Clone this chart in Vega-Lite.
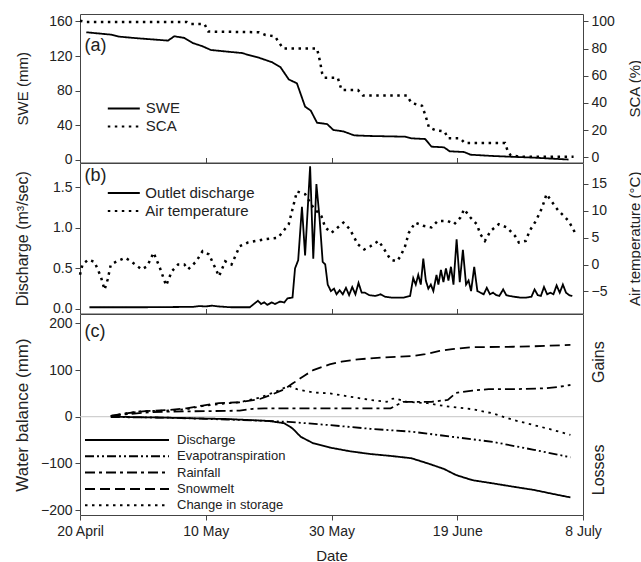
{
"$schema": "https://vega.github.io/schema/vega-lite/v6.json",
"background": "white",
"padding": {"left": 12, "top": 13, "right": 2, "bottom": 0},
"autosize": {"type": "pad"},
"spacing": 0,
"bounds": "flush",
"datasets": {
"a": [
{"d":1,"v":147.4,"s":"SWE"},{"d":4.9,"v":144.7,"s":"SWE"},{"d":6.2,"v":142.4,"s":"SWE"},{"d":9.1,"v":140.5,"s":"SWE"},{"d":14,"v":137.8,"s":"SWE"},{"d":15,"v":142.8,"s":"SWE"},{"d":16.6,"v":140.9,"s":"SWE"},{"d":17.9,"v":135.1,"s":"SWE"},{"d":19.5,"v":131.2,"s":"SWE"},{"d":20.8,"v":127,"s":"SWE"},{"d":22.8,"v":125.5,"s":"SWE"},{"d":25.7,"v":123.5,"s":"SWE"},{"d":28.6,"v":117.7,"s":"SWE"},{"d":30.6,"v":112.7,"s":"SWE"},{"d":31.9,"v":107,"s":"SWE"},{"d":33.2,"v":93,"s":"SWE"},{"d":34.5,"v":88.5,"s":"SWE"},{"d":35.8,"v":61.6,"s":"SWE"},{"d":36.7,"v":57,"s":"SWE"},{"d":37.7,"v":43,"s":"SWE"},{"d":39.3,"v":41.5,"s":"SWE"},{"d":40.3,"v":34.6,"s":"SWE"},{"d":41.9,"v":33,"s":"SWE"},{"d":43.6,"v":28.4,"s":"SWE"},{"d":46.2,"v":27.7,"s":"SWE"},{"d":51.7,"v":26.9,"s":"SWE"},{"d":52.7,"v":25,"s":"SWE"},{"d":54.9,"v":24.2,"s":"SWE"},{"d":55.9,"v":15.4,"s":"SWE"},{"d":57.9,"v":14.6,"s":"SWE"},{"d":58.8,"v":10,"s":"SWE"},{"d":61.1,"v":9.2,"s":"SWE"},{"d":62.1,"v":6.1,"s":"SWE"},{"d":65.7,"v":4.6,"s":"SWE"},{"d":72.2,"v":2.7,"s":"SWE"},{"d":77.7,"v":0.5,"s":"SWE"},
{"d":0,"v":100.5,"s":"SCA"},{"d":1,"v":99.5,"s":"SCA"},{"d":17,"v":99.5,"s":"SCA"},{"d":17.6,"v":98,"s":"SCA"},{"d":19.8,"v":98,"s":"SCA"},{"d":20.4,"v":92.5,"s":"SCA"},{"d":28.5,"v":92,"s":"SCA"},{"d":29.5,"v":90,"s":"SCA"},{"d":31,"v":89,"s":"SCA"},{"d":32.3,"v":80,"s":"SCA"},{"d":37.7,"v":80,"s":"SCA"},{"d":38.2,"v":70,"s":"SCA"},{"d":38.5,"v":62,"s":"SCA"},{"d":38.9,"v":58.5,"s":"SCA"},{"d":41,"v":58.5,"s":"SCA"},{"d":41.6,"v":49.5,"s":"SCA"},{"d":44.2,"v":49.5,"s":"SCA"},{"d":45,"v":45.5,"s":"SCA"},{"d":52,"v":45.5,"s":"SCA"},{"d":52.7,"v":40,"s":"SCA"},{"d":54.4,"v":38,"s":"SCA"},{"d":55,"v":30,"s":"SCA"},{"d":55.5,"v":22,"s":"SCA"},{"d":56.5,"v":20,"s":"SCA"},{"d":58,"v":19,"s":"SCA"},{"d":58.5,"v":14,"s":"SCA"},{"d":60.5,"v":14,"s":"SCA"},{"d":61.2,"v":10.5,"s":"SCA"},{"d":67.6,"v":10.5,"s":"SCA"},{"d":68,"v":5,"s":"SCA"},{"d":68.5,"v":1.5,"s":"SCA"},{"d":70,"v":0.5,"s":"SCA"},{"d":78.5,"v":0.5,"s":"SCA"}
],
"b": [
{"d":1.5,"v":0.02,"s":"Outlet discharge"},{"d":10,"v":0.02,"s":"Outlet discharge"},{"d":18,"v":0.025,"s":"Outlet discharge"},{"d":19,"v":0.035,"s":"Outlet discharge"},{"d":20,"v":0.03,"s":"Outlet discharge"},{"d":21,"v":0.04,"s":"Outlet discharge"},{"d":22,"v":0.03,"s":"Outlet discharge"},{"d":24,"v":0.02,"s":"Outlet discharge"},{"d":27,"v":0.02,"s":"Outlet discharge"},{"d":27.8,"v":0.07,"s":"Outlet discharge"},{"d":28.3,"v":0.1,"s":"Outlet discharge"},{"d":28.8,"v":0.06,"s":"Outlet discharge"},{"d":29.3,"v":0.08,"s":"Outlet discharge"},{"d":29.8,"v":0.05,"s":"Outlet discharge"},{"d":30.5,"v":0.08,"s":"Outlet discharge"},{"d":31,"v":0.06,"s":"Outlet discharge"},{"d":31.8,"v":0.09,"s":"Outlet discharge"},{"d":32.5,"v":0.08,"s":"Outlet discharge"},{"d":33,"v":0.13,"s":"Outlet discharge"},{"d":33.8,"v":0.14,"s":"Outlet discharge"},{"d":34.2,"v":0.5,"s":"Outlet discharge"},{"d":34.7,"v":0.6,"s":"Outlet discharge"},{"d":35.3,"v":1.26,"s":"Outlet discharge"},{"d":35.8,"v":0.66,"s":"Outlet discharge"},{"d":36.6,"v":1.76,"s":"Outlet discharge"},{"d":37.1,"v":0.62,"s":"Outlet discharge"},{"d":37.6,"v":1.54,"s":"Outlet discharge"},{"d":38.1,"v":1.12,"s":"Outlet discharge"},{"d":38.6,"v":0.58,"s":"Outlet discharge"},{"d":39,"v":0.55,"s":"Outlet discharge"},{"d":39.4,"v":0.3,"s":"Outlet discharge"},{"d":39.9,"v":0.22,"s":"Outlet discharge"},{"d":40.4,"v":0.25,"s":"Outlet discharge"},{"d":40.8,"v":0.18,"s":"Outlet discharge"},{"d":41.3,"v":0.23,"s":"Outlet discharge"},{"d":41.8,"v":0.18,"s":"Outlet discharge"},{"d":42.3,"v":0.26,"s":"Outlet discharge"},{"d":42.8,"v":0.17,"s":"Outlet discharge"},{"d":43.3,"v":0.27,"s":"Outlet discharge"},{"d":43.8,"v":0.18,"s":"Outlet discharge"},{"d":44.3,"v":0.32,"s":"Outlet discharge"},{"d":44.8,"v":0.2,"s":"Outlet discharge"},{"d":45.3,"v":0.2,"s":"Outlet discharge"},{"d":46,"v":0.17,"s":"Outlet discharge"},{"d":47,"v":0.16,"s":"Outlet discharge"},{"d":47.8,"v":0.18,"s":"Outlet discharge"},{"d":48.5,"v":0.15,"s":"Outlet discharge"},{"d":49.5,"v":0.14,"s":"Outlet discharge"},{"d":50.5,"v":0.14,"s":"Outlet discharge"},{"d":51.5,"v":0.14,"s":"Outlet discharge"},{"d":52.5,"v":0.16,"s":"Outlet discharge"},{"d":53,"v":0.38,"s":"Outlet discharge"},{"d":53.4,"v":0.3,"s":"Outlet discharge"},{"d":53.8,"v":0.42,"s":"Outlet discharge"},{"d":54.2,"v":0.3,"s":"Outlet discharge"},{"d":54.6,"v":0.62,"s":"Outlet discharge"},{"d":55,"v":0.35,"s":"Outlet discharge"},{"d":55.4,"v":0.25,"s":"Outlet discharge"},{"d":55.8,"v":0.3,"s":"Outlet discharge"},{"d":56.2,"v":0.22,"s":"Outlet discharge"},{"d":56.7,"v":0.42,"s":"Outlet discharge"},{"d":57,"v":0.3,"s":"Outlet discharge"},{"d":57.4,"v":0.48,"s":"Outlet discharge"},{"d":57.8,"v":0.33,"s":"Outlet discharge"},{"d":58.2,"v":0.5,"s":"Outlet discharge"},{"d":58.6,"v":0.35,"s":"Outlet discharge"},{"d":59,"v":0.52,"s":"Outlet discharge"},{"d":59.4,"v":0.3,"s":"Outlet discharge"},{"d":59.9,"v":0.86,"s":"Outlet discharge"},{"d":60.4,"v":0.33,"s":"Outlet discharge"},{"d":60.9,"v":0.73,"s":"Outlet discharge"},{"d":61.4,"v":0.3,"s":"Outlet discharge"},{"d":61.8,"v":0.35,"s":"Outlet discharge"},{"d":62.2,"v":0.22,"s":"Outlet discharge"},{"d":62.7,"v":0.52,"s":"Outlet discharge"},{"d":63.2,"v":0.22,"s":"Outlet discharge"},{"d":63.7,"v":0.2,"s":"Outlet discharge"},{"d":64.2,"v":0.18,"s":"Outlet discharge"},{"d":64.7,"v":0.26,"s":"Outlet discharge"},{"d":65.2,"v":0.18,"s":"Outlet discharge"},{"d":65.7,"v":0.2,"s":"Outlet discharge"},{"d":66.2,"v":0.17,"s":"Outlet discharge"},{"d":66.7,"v":0.16,"s":"Outlet discharge"},{"d":67.3,"v":0.24,"s":"Outlet discharge"},{"d":67.8,"v":0.17,"s":"Outlet discharge"},{"d":68.3,"v":0.16,"s":"Outlet discharge"},{"d":69,"v":0.15,"s":"Outlet discharge"},{"d":70,"v":0.14,"s":"Outlet discharge"},{"d":71,"v":0.14,"s":"Outlet discharge"},{"d":71.8,"v":0.15,"s":"Outlet discharge"},{"d":72.3,"v":0.24,"s":"Outlet discharge"},{"d":72.8,"v":0.17,"s":"Outlet discharge"},{"d":73.3,"v":0.16,"s":"Outlet discharge"},{"d":73.8,"v":0.27,"s":"Outlet discharge"},{"d":74.3,"v":0.18,"s":"Outlet discharge"},{"d":74.8,"v":0.2,"s":"Outlet discharge"},{"d":75.3,"v":0.18,"s":"Outlet discharge"},{"d":75.8,"v":0.29,"s":"Outlet discharge"},{"d":76.3,"v":0.2,"s":"Outlet discharge"},{"d":76.8,"v":0.3,"s":"Outlet discharge"},{"d":77.3,"v":0.2,"s":"Outlet discharge"},{"d":77.8,"v":0.17,"s":"Outlet discharge"},{"d":78.3,"v":0.16,"s":"Outlet discharge"},
{"d":0,"v":-1.9,"s":"Air temperature"},{"d":0.4,"v":0,"s":"Air temperature"},{"d":1.3,"v":0.9,"s":"Air temperature"},{"d":2.3,"v":0.5,"s":"Air temperature"},{"d":3.3,"v":-2.2,"s":"Air temperature"},{"d":3.9,"v":-4.7,"s":"Air temperature"},{"d":4.4,"v":-2.8,"s":"Air temperature"},{"d":4.9,"v":0,"s":"Air temperature"},{"d":5.9,"v":0.6,"s":"Air temperature"},{"d":7.2,"v":1.25,"s":"Air temperature"},{"d":8.1,"v":0.6,"s":"Air temperature"},{"d":9.8,"v":-0.9,"s":"Air temperature"},{"d":10.7,"v":-0.3,"s":"Air temperature"},{"d":11.7,"v":2.2,"s":"Air temperature"},{"d":12.7,"v":-0.6,"s":"Air temperature"},{"d":13.7,"v":-3.9,"s":"Air temperature"},{"d":14.6,"v":-1.25,"s":"Air temperature"},{"d":15.6,"v":0,"s":"Air temperature"},{"d":16.6,"v":0,"s":"Air temperature"},{"d":17.2,"v":-0.9,"s":"Air temperature"},{"d":18.5,"v":0.6,"s":"Air temperature"},{"d":19.5,"v":2.5,"s":"Air temperature"},{"d":20.5,"v":1.9,"s":"Air temperature"},{"d":21.5,"v":-0.6,"s":"Air temperature"},{"d":22.1,"v":-2.2,"s":"Air temperature"},{"d":23.1,"v":0.6,"s":"Air temperature"},{"d":24.1,"v":0,"s":"Air temperature"},{"d":25.4,"v":3.4,"s":"Air temperature"},{"d":26.7,"v":4.1,"s":"Air temperature"},{"d":28,"v":4.4,"s":"Air temperature"},{"d":29.3,"v":4.7,"s":"Air temperature"},{"d":31.5,"v":5,"s":"Air temperature"},{"d":33.2,"v":7.5,"s":"Air temperature"},{"d":34.5,"v":13.6,"s":"Air temperature"},{"d":35.8,"v":13.1,"s":"Air temperature"},{"d":37.1,"v":10.6,"s":"Air temperature"},{"d":38.4,"v":9,"s":"Air temperature"},{"d":39,"v":6.9,"s":"Air temperature"},{"d":40,"v":5.9,"s":"Air temperature"},{"d":41,"v":6.9,"s":"Air temperature"},{"d":41.9,"v":7.8,"s":"Air temperature"},{"d":42.9,"v":6.6,"s":"Air temperature"},{"d":44.2,"v":3.75,"s":"Air temperature"},{"d":45.2,"v":2.8,"s":"Air temperature"},{"d":46.2,"v":3.4,"s":"Air temperature"},{"d":47.5,"v":4.4,"s":"Air temperature"},{"d":48.4,"v":2.8,"s":"Air temperature"},{"d":49.4,"v":0.9,"s":"Air temperature"},{"d":50.4,"v":0.6,"s":"Air temperature"},{"d":51,"v":1.6,"s":"Air temperature"},{"d":51.7,"v":3.4,"s":"Air temperature"},{"d":52.3,"v":5.9,"s":"Air temperature"},{"d":53.3,"v":7.8,"s":"Air temperature"},{"d":54.6,"v":7.2,"s":"Air temperature"},{"d":55.9,"v":6.9,"s":"Air temperature"},{"d":56.9,"v":8.1,"s":"Air temperature"},{"d":58.5,"v":8.1,"s":"Air temperature"},{"d":59.5,"v":7.5,"s":"Air temperature"},{"d":60.5,"v":8.75,"s":"Air temperature"},{"d":61.1,"v":10.3,"s":"Air temperature"},{"d":62.1,"v":8.75,"s":"Air temperature"},{"d":63.1,"v":7.5,"s":"Air temperature"},{"d":63.7,"v":5.6,"s":"Air temperature"},{"d":64.4,"v":4.4,"s":"Air temperature"},{"d":65.3,"v":6.25,"s":"Air temperature"},{"d":66.6,"v":7.5,"s":"Air temperature"},{"d":67.9,"v":6.9,"s":"Air temperature"},{"d":69.2,"v":5.3,"s":"Air temperature"},{"d":69.8,"v":4.1,"s":"Air temperature"},{"d":70.9,"v":4.4,"s":"Air temperature"},{"d":71.5,"v":6.25,"s":"Air temperature"},{"d":72.5,"v":8.1,"s":"Air temperature"},{"d":73.5,"v":10.6,"s":"Air temperature"},{"d":74.2,"v":13.1,"s":"Air temperature"},{"d":75.1,"v":11.6,"s":"Air temperature"},{"d":76.1,"v":10,"s":"Air temperature"},{"d":77,"v":9,"s":"Air temperature"},{"d":77.7,"v":8.1,"s":"Air temperature"},{"d":78.3,"v":6.9,"s":"Air temperature"},{"d":79,"v":5.3,"s":"Air temperature"}
],
"c": [
{"d":4.9,"v":0,"s":"Discharge"},{"d":13.7,"v":-2,"s":"Discharge"},{"d":23.4,"v":-5,"s":"Discharge"},{"d":29.9,"v":-9,"s":"Discharge"},{"d":32.5,"v":-14,"s":"Discharge"},{"d":33.8,"v":-25,"s":"Discharge"},{"d":35.1,"v":-43,"s":"Discharge"},{"d":37.1,"v":-57,"s":"Discharge"},{"d":39.7,"v":-66,"s":"Discharge"},{"d":42.9,"v":-74,"s":"Discharge"},{"d":46.2,"v":-80,"s":"Discharge"},{"d":49.4,"v":-84,"s":"Discharge"},{"d":52.7,"v":-89,"s":"Discharge"},{"d":55.3,"v":-100,"s":"Discharge"},{"d":57.9,"v":-112,"s":"Discharge"},{"d":59.8,"v":-125,"s":"Discharge"},{"d":62.4,"v":-136,"s":"Discharge"},{"d":65.7,"v":-143,"s":"Discharge"},{"d":68.9,"v":-150,"s":"Discharge"},{"d":72.2,"v":-157,"s":"Discharge"},{"d":75.4,"v":-166,"s":"Discharge"},{"d":78,"v":-173,"s":"Discharge"},
{"d":4.9,"v":-0.7,"s":"Evapotranspiration"},{"d":13.7,"v":-2,"s":"Evapotranspiration"},{"d":23.4,"v":-6,"s":"Evapotranspiration"},{"d":29.9,"v":-9,"s":"Evapotranspiration"},{"d":33.2,"v":-11,"s":"Evapotranspiration"},{"d":39.7,"v":-18,"s":"Evapotranspiration"},{"d":46.2,"v":-26,"s":"Evapotranspiration"},{"d":52.7,"v":-32,"s":"Evapotranspiration"},{"d":59.2,"v":-43,"s":"Evapotranspiration"},{"d":65.7,"v":-54,"s":"Evapotranspiration"},{"d":72.2,"v":-71,"s":"Evapotranspiration"},{"d":78,"v":-87,"s":"Evapotranspiration"},
{"d":4.9,"v":1.5,"s":"Rainfall"},{"d":7.2,"v":5,"s":"Rainfall"},{"d":10.4,"v":9,"s":"Rainfall"},{"d":13.7,"v":11,"s":"Rainfall"},{"d":20.2,"v":12,"s":"Rainfall"},{"d":25.4,"v":13,"s":"Rainfall"},{"d":27.5,"v":17,"s":"Rainfall"},{"d":29.3,"v":18,"s":"Rainfall"},{"d":33.2,"v":18,"s":"Rainfall"},{"d":39.7,"v":18,"s":"Rainfall"},{"d":49.4,"v":18,"s":"Rainfall"},{"d":50.4,"v":25,"s":"Rainfall"},{"d":51.4,"v":32,"s":"Rainfall"},{"d":53.3,"v":32,"s":"Rainfall"},{"d":55.9,"v":32,"s":"Rainfall"},{"d":58.5,"v":36,"s":"Rainfall"},{"d":59.8,"v":51,"s":"Rainfall"},{"d":62.4,"v":56,"s":"Rainfall"},{"d":65,"v":59,"s":"Rainfall"},{"d":68.9,"v":59,"s":"Rainfall"},{"d":74.1,"v":61,"s":"Rainfall"},{"d":76.1,"v":64,"s":"Rainfall"},{"d":78,"v":68,"s":"Rainfall"},
{"d":4.9,"v":2,"s":"Snowmelt"},{"d":7.2,"v":7,"s":"Snowmelt"},{"d":10.4,"v":12,"s":"Snowmelt"},{"d":13.7,"v":14,"s":"Snowmelt"},{"d":16.9,"v":18,"s":"Snowmelt"},{"d":19.5,"v":24,"s":"Snowmelt"},{"d":22.1,"v":29,"s":"Snowmelt"},{"d":25.4,"v":31,"s":"Snowmelt"},{"d":28.6,"v":38,"s":"Snowmelt"},{"d":30.6,"v":48,"s":"Snowmelt"},{"d":32.5,"v":59,"s":"Snowmelt"},{"d":33.8,"v":71,"s":"Snowmelt"},{"d":35.8,"v":89,"s":"Snowmelt"},{"d":37.1,"v":100,"s":"Snowmelt"},{"d":39.7,"v":112,"s":"Snowmelt"},{"d":41.6,"v":118,"s":"Snowmelt"},{"d":44.2,"v":123,"s":"Snowmelt"},{"d":48.1,"v":127,"s":"Snowmelt"},{"d":52.7,"v":130,"s":"Snowmelt"},{"d":54.9,"v":134,"s":"Snowmelt"},{"d":57.2,"v":141,"s":"Snowmelt"},{"d":59.2,"v":145,"s":"Snowmelt"},{"d":62.4,"v":149,"s":"Snowmelt"},{"d":68.9,"v":150,"s":"Snowmelt"},{"d":72.2,"v":151,"s":"Snowmelt"},{"d":78,"v":154,"s":"Snowmelt"},
{"d":4.9,"v":1.5,"s":"Change in storage"},{"d":7.2,"v":7,"s":"Change in storage"},{"d":9.8,"v":12,"s":"Change in storage"},{"d":13.7,"v":13,"s":"Change in storage"},{"d":16.9,"v":16,"s":"Change in storage"},{"d":19.5,"v":23,"s":"Change in storage"},{"d":22.1,"v":27,"s":"Change in storage"},{"d":25.4,"v":31,"s":"Change in storage"},{"d":28.6,"v":41,"s":"Change in storage"},{"d":31.2,"v":54,"s":"Change in storage"},{"d":33.2,"v":66,"s":"Change in storage"},{"d":34.5,"v":59,"s":"Change in storage"},{"d":37.1,"v":52,"s":"Change in storage"},{"d":39.7,"v":50,"s":"Change in storage"},{"d":42.9,"v":43,"s":"Change in storage"},{"d":46.2,"v":36,"s":"Change in storage"},{"d":48.8,"v":32,"s":"Change in storage"},{"d":49.5,"v":38,"s":"Change in storage"},{"d":50.1,"v":39,"s":"Change in storage"},{"d":52,"v":32,"s":"Change in storage"},{"d":55.3,"v":29,"s":"Change in storage"},{"d":57.9,"v":23,"s":"Change in storage"},{"d":59.8,"v":20,"s":"Change in storage"},{"d":62.4,"v":16,"s":"Change in storage"},{"d":65.7,"v":7,"s":"Change in storage"},{"d":68.9,"v":-7,"s":"Change in storage"},{"d":72.2,"v":-18,"s":"Change in storage"},{"d":75.4,"v":-29,"s":"Change in storage"},{"d":78,"v":-39,"s":"Change in storage"}
]
},
"vconcat": [
{
"width": 503, "height": 148.5,
"layer": [
{"data": {"name": "a"},
 "transform": [{"filter": "datum.s === 'SWE'"}],
 "mark": {"type": "line", "strokeWidth": 1.8, "color": "black"},
 "encoding": {
  "x": {"field": "d", "type": "quantitative", "scale": {"domain": [0, 80], "nice": false, "zero": false}, "axis": {"values": [0, 20, 40, 60, 80], "labels": false, "tickSize": -5, "title": null}},
  "y": {"field": "v", "type": "quantitative", "scale": {"domain": [-2.9, 168.5], "nice": false, "zero": false}, "axis": {"values": [0, 40, 80, 120, 160], "title": "SWE (mm)", "titleFontSize": 15, "titleX": -58, "titleBaseline": "middle", "titleAngle": 270}},
  "strokeDash": {"field": "s", "type": "nominal", "scale": {"domain": ["SWE", "SCA"], "range": [[1, 0], [2.5, 4.5]]},
   "legend": {"orient": "none", "legendX": 34.8, "legendY": 85.4, "title": null, "symbolType": "M-2,0H2", "symbolSize": 256, "symbolStrokeWidth": 2, "symbolStrokeColor": "black", "labelFontSize": 15, "labelOffset": 13, "rowPadding": 1, "padding": 0}}
 }},
{"data": {"name": "a"},
 "transform": [{"filter": "datum.s === 'SCA'"}],
 "mark": {"type": "line", "strokeWidth": 2.5, "color": "black"},
 "encoding": {
  "x": {"field": "d", "type": "quantitative"},
  "y": {"field": "v", "type": "quantitative", "scale": {"domain": [-3.75, 105.4], "nice": false, "zero": false}, "axis": {"orient": "right", "values": [0, 20, 40, 60, 80, 100], "title": "SCA (%)", "titleFontSize": 15, "titleX": 51, "titleBaseline": "middle", "titleAngle": 270}},
  "strokeDash": {"field": "s", "type": "nominal", "scale": {"domain": ["SWE", "SCA"], "range": [[1, 0], [2.5, 4.5]]}}
 }},
{"data": {"values": [{}]},
 "mark": {"type": "text", "fontSize": 18, "align": "left", "baseline": "middle", "color": "#222"},
 "encoding": {
  "x": {"datum": 0.7, "type": "quantitative"},
  "y": {"datum": 132, "type": "quantitative", "scale": {"domain": [-2.9, 168.5], "nice": false, "zero": false}, "axis": null},
  "text": {"value": "(a)"}
 }}
],
"resolve": {"scale": {"y": "independent"}}
},
{
"width": 503, "height": 150.5,
"layer": [
{"data": {"name": "b"},
 "transform": [{"filter": "datum.s === 'Outlet discharge'"}],
 "mark": {"type": "line", "strokeWidth": 1.8, "color": "black"},
 "encoding": {
  "x": {"field": "d", "type": "quantitative", "scale": {"domain": [0, 80], "nice": false, "zero": false}, "axis": {"values": [0, 20, 40, 60, 80], "labels": false, "tickSize": -5, "title": null}},
  "y": {"field": "v", "type": "quantitative", "scale": {"domain": [-0.057, 1.801], "nice": false, "zero": false}, "axis": {"values": [0, 0.5, 1, 1.5], "format": ".1f", "title": "Discharge (m³/sec)", "titleX": -58, "titleBaseline": "middle", "titleAngle": 270}},
  "strokeDash": {"field": "s", "type": "nominal", "scale": {"domain": ["Outlet discharge", "Air temperature"], "range": [[1, 0], [2.5, 4.5]]},
   "legend": {"orient": "none", "legendX": 34.8, "legendY": 20.9, "title": null, "symbolType": "M-2,0H2", "symbolSize": 256, "symbolStrokeWidth": 2, "symbolStrokeColor": "black", "labelFontSize": 15, "labelOffset": 12.5, "rowPadding": 1, "padding": 0}}
 }},
{"data": {"name": "b"},
 "transform": [{"filter": "datum.s === 'Air temperature'"}],
 "mark": {"type": "line", "strokeWidth": 2.5, "color": "black"},
 "encoding": {
  "x": {"field": "d", "type": "quantitative"},
  "y": {"field": "v", "type": "quantitative", "scale": {"domain": [-9.12, 18.9], "nice": false, "zero": false}, "axis": {"orient": "right", "values": [-5, 0, 5, 10, 15], "title": "Air temperature (°C)", "titleFontSize": 15, "titleX": 51, "titleBaseline": "middle", "titleAngle": 270}},
  "strokeDash": {"field": "s", "type": "nominal", "scale": {"domain": ["Outlet discharge", "Air temperature"], "range": [[1, 0], [2.5, 4.5]]}}
 }},
{"data": {"values": [{}]},
 "mark": {"type": "text", "fontSize": 18, "align": "left", "baseline": "middle", "color": "#222"},
 "encoding": {
  "x": {"datum": 0.7, "type": "quantitative"},
  "y": {"datum": 1.64, "type": "quantitative", "scale": {"domain": [-0.057, 1.801], "nice": false, "zero": false}, "axis": null},
  "text": {"value": "(b)"}
 }}
],
"resolve": {"scale": {"y": "independent"}}
},
{
"width": 503, "height": 201,
"layer": [
{"data": {"values": [{}]},
 "mark": {"type": "rule", "color": "#c4c4c4", "strokeWidth": 1},
 "encoding": {
  "y": {"datum": 0, "type": "quantitative", "scale": {"domain": [-210.7, 220.2], "nice": false, "zero": false},
   "axis": {"orient": "right", "values": [118, -113], "labelExpr": "datum.value > 0 ? 'Gains' : 'Losses'", "labelAngle": 270, "labelAlign": "center", "labelBaseline": "top", "labelFontSize": 16, "ticks": false, "tickSize": 0, "labelPadding": 7, "title": null}}
 }},
{"data": {"name": "c"},
 "mark": {"type": "line", "strokeWidth": 1.8, "color": "black"},
 "encoding": {
  "x": {"field": "d", "type": "quantitative", "scale": {"domain": [0, 80], "nice": false, "zero": false},
   "axis": {"values": [0, 20, 40, 60, 80], "labelFlush": false, "labelExpr": "datum.value == 0 ? '20 April' : datum.value == 20 ? '10 May' : datum.value == 40 ? '30 May' : datum.value == 60 ? '19 June' : '8 July'", "title": "Date", "titleFontSize": 15, "labelPadding": 4, "titlePadding": 10}},
  "y": {"field": "v", "type": "quantitative", "scale": {"domain": [-210.7, 220.2], "nice": false, "zero": false}, "axis": {"values": [-200, -100, 0, 100, 200], "title": "Water balance (mm)", "titleFontSize": 17, "titleX": -58, "titleBaseline": "middle", "titleAngle": 270}},
  "strokeDash": {"field": "s", "type": "nominal", "scale": {"domain": ["Discharge", "Evapotranspiration", "Rainfall", "Snowmelt", "Change in storage"], "range": [[1, 0], [9, 3, 2, 3, 2, 3], [10, 4, 3, 4], [10, 5], [2.5, 4.5]]},
   "legend": {"orient": "none", "legendX": 39, "legendY": 118, "title": null, "symbolType": "M-6,0H6", "symbolSize": 196, "symbolStrokeWidth": 2, "symbolStrokeColor": "black", "labelFontSize": 13, "labelOffset": 42, "rowPadding": 1.3, "padding": 0}}
 }},
{"data": {"values": [{}]},
 "mark": {"type": "text", "fontSize": 18, "align": "left", "baseline": "middle", "color": "#222"},
 "encoding": {
  "x": {"datum": 0.7, "type": "quantitative"},
  "y": {"datum": 182, "type": "quantitative", "scale": {"domain": [-210.7, 220.2], "nice": false, "zero": false}, "axis": null},
  "text": {"value": "(c)"}
 }}
],
"resolve": {"scale": {"y": "independent"}}
}
],
"resolve": {"scale": {"strokeDash": "independent"}, "legend": {"strokeDash": "independent"}},
"config": {
 "font": "Liberation Sans",
 "view": {"stroke": "#444", "strokeWidth": 1},
 "axis": {"grid": false, "domain": false, "labelFontSize": 14, "titleFontSize": 16, "titleFontWeight": "normal", "labelColor": "#222", "titleColor": "#222", "tickColor": "#444", "tickSize": 5, "labelPadding": 3},
 "legend": {"labelColor": "#222"},
 "line": {"color": "black"}
}
}
